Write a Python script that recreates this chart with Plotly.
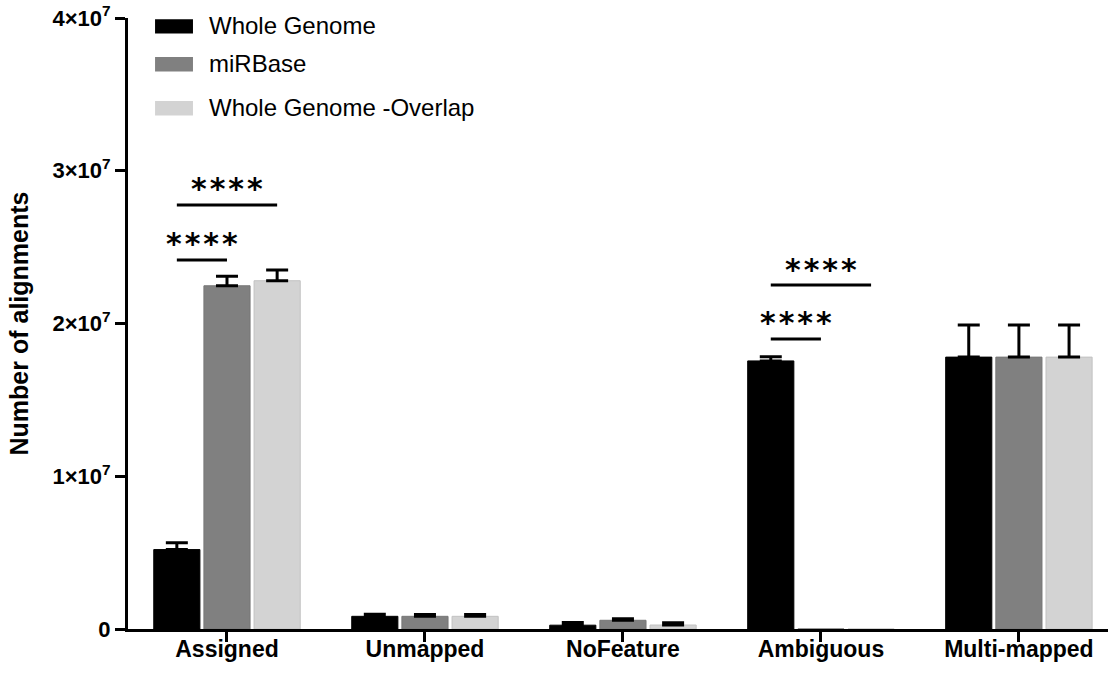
import plotly.graph_objects as go

categories = ["Assigned", "Unmapped", "NoFeature", "Ambiguous", "Multi-mapped"]
series_names = ["Whole Genome", "miRBase", "Whole Genome -Overlap"]
whole_genome = [5.2e6, 8.3e5, 2.5e5, 1.755e7, 1.78e7]
whole_genome_err = [4.5e5, 1.3e5, 1.7e5, 2.8e5, 2.1e6]
mirbase = [2.247e7, 8.3e5, 5.7e5, 0, 1.78e7]
mirbase_err = [6.3e5, 1.2e5, 1.0e5, 0, 2.1e6]
overlap = [2.28e7, 8.3e5, 2.6e5, 0, 1.78e7]
overlap_err = [7.0e5, 1.2e5, 1.5e5, 0, 2.1e6]
colors = ["#000000", "#808080", "#D3D3D3"]
edge_colors = ["#000000", "#767676", "#C2C2C2"]

y_tickvals = [0, 1e7, 2e7, 3e7, 4e7]
y_ticktext = ["0", "1×10<sup>7</sup>", "2×10<sup>7</sup>", "3×10<sup>7</sup>", "4×10<sup>7</sup>"]

# significance brackets: (category index, from series, to series, y level)
sig_brackets = [(0, 0, 1, 2.416e7), (0, 0, 2, 2.776e7), (3, 0, 1, 1.899e7), (3, 0, 2, 2.252e7)]
sig_label = "*\u200a*\u200a*\u200a*"

FONT = "Liberation Sans, Arial, sans-serif"
STAR_FONT = "DejaVu Sans"

fig = go.Figure()
values = [whole_genome, mirbase, overlap]
errs = [whole_genome_err, mirbase_err, overlap_err]
for i in range(3):
    # no error bar is drawn for an empty (zero) bar
    err_up = [e if v != 0 else "NaN" for v, e in zip(values[i], errs[i])]
    err_down = [0 if v != 0 else "NaN" for v in values[i]]
    fig.add_trace(go.Bar(
        x=categories, y=values[i], name=series_names[i],
        marker=dict(color=colors[i], line=dict(color=edge_colors[i], width=1)),
        error_y=dict(type="data", array=err_up, arrayminus=err_down, symmetric=False,
                     color="black", thickness=3, width=11),
        showlegend=False,
    ))

# bar offset: slot width in category units
group_frac = 1 - 0.24
slot = group_frac / 3
offsets = [-slot, 0, slot]

shapes = []
annotations = []
for cat, s1, s2, yv in sig_brackets:
    x0 = cat + offsets[s1]
    x1 = cat + offsets[s2]
    shapes.append(dict(type="line", xref="x", yref="y", x0=x0, x1=x1, y0=yv, y1=yv,
                       line=dict(color="black", width=3)))
    annotations.append(dict(xref="x", yref="y", x=(x0 + x1) / 2, y=yv, text=sig_label,
                            showarrow=False, yanchor="middle", yshift=16,
                            font=dict(family=STAR_FONT, size=30, color="black", weight="bold")))

# manual legend (paper coords of plot area)
leg_text_y = [0.987, 0.925, 0.853]
for i in range(3):
    shapes.append(dict(type="rect", xref="paper", yref="paper",
                       x0=0.0276, x1=0.0663,
                       y0=leg_text_y[i] - 0.0125, y1=leg_text_y[i] + 0.011,
                       fillcolor=colors[i], line=dict(width=0)))
    annotations.append(dict(xref="paper", yref="paper", x=0.081, y=leg_text_y[i], text=series_names[i],
                            showarrow=False, xanchor="left", yanchor="middle",
                            font=dict(family=FONT, size=24, color="black")))

fig.update_layout(
    width=1111, height=675,
    margin=dict(l=128, r=3, t=18, b=46),
    paper_bgcolor="white", plot_bgcolor="white",
    barmode="group", bargap=0.24, bargroupgap=0.08,
    font=dict(family=FONT, color="black"),
    shapes=shapes, annotations=annotations,
    xaxis=dict(range=[-0.5, 4.45], showline=True, linecolor="black", linewidth=3,
               ticks="outside", ticklen=10, tickwidth=3, tickcolor="black",
               tickfont=dict(family=FONT, size=23, color="black", weight="bold"),
               ticklabelstandoff=-13,
               showgrid=False, zeroline=False),
    yaxis=dict(range=[0, 4e7], tickvals=y_tickvals, ticktext=y_ticktext,
               showline=True, linecolor="black", linewidth=3,
               ticks="outside", ticklen=10, tickwidth=3, tickcolor="black",
               tickfont=dict(family=FONT, size=22, color="black", weight="bold"),
               title=dict(text="<b>Number of alignments</b>", font=dict(family=FONT, size=25, color="black"), standoff=17),
               showgrid=False, zeroline=False),
)

fig.write_html("out.html")
